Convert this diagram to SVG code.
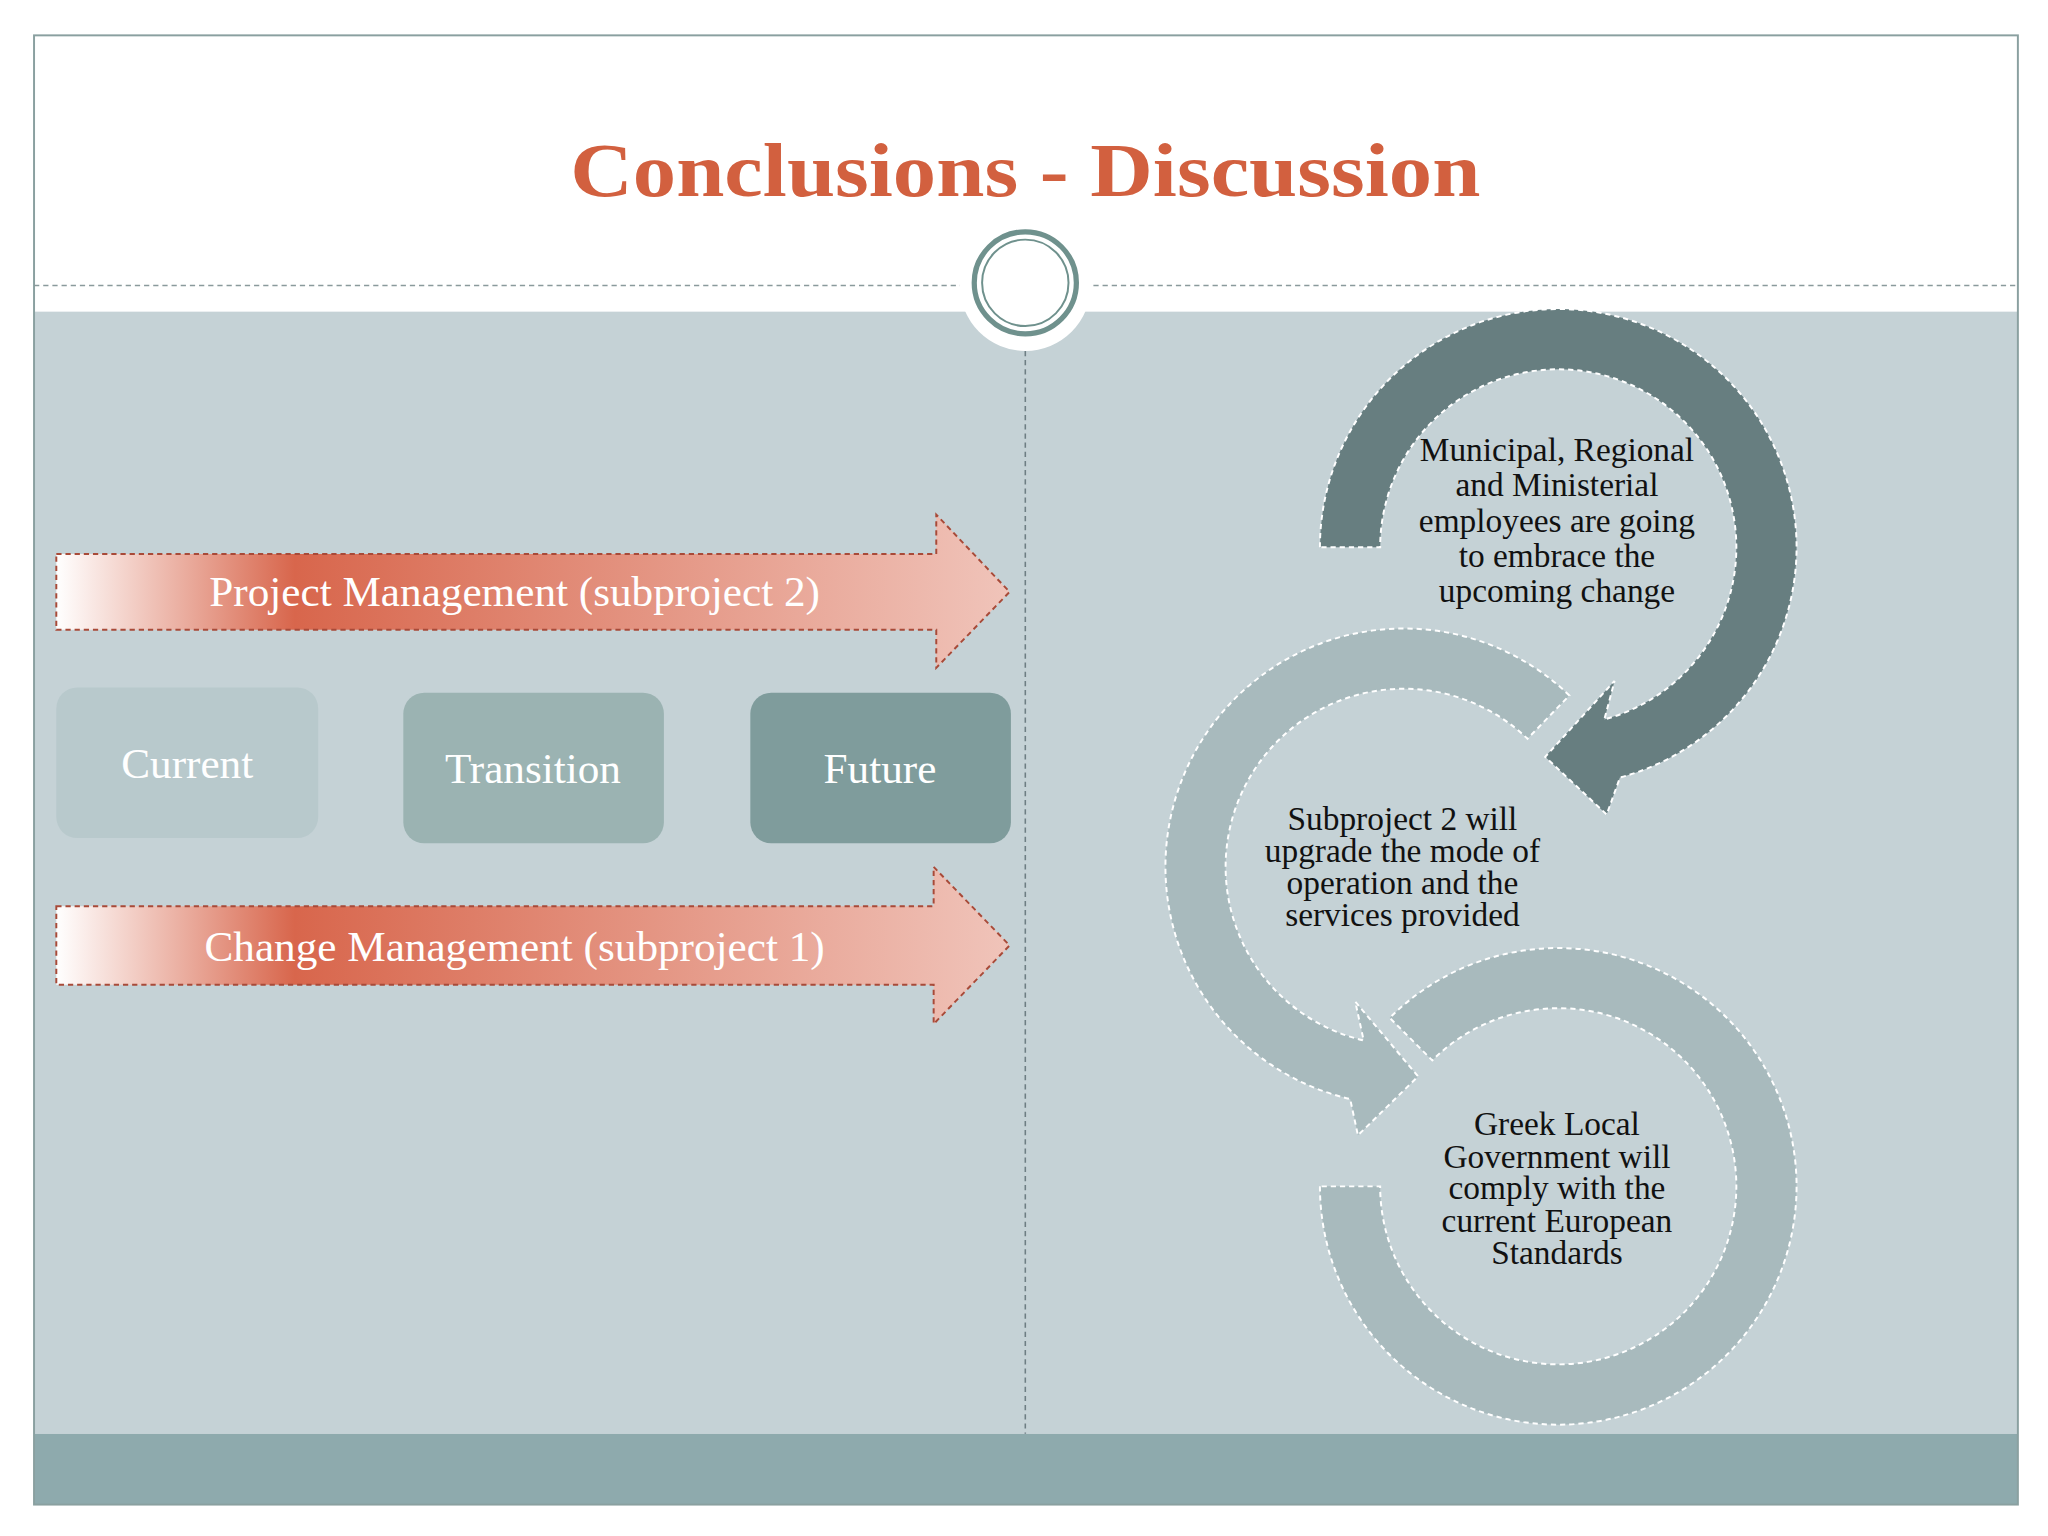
<svg xmlns="http://www.w3.org/2000/svg" width="2048" height="1536" viewBox="0 0 2048 1536">
<style>
.t{font-family:"Liberation Serif","DejaVu Serif",serif;text-anchor:middle}
.lbl{font-size:33px;fill:#ffffff}
.cyc{font-size:25.5px;fill:#111111}
.ring{stroke:#ffffff;stroke-width:1.5;stroke-dasharray:4 3}
.band{fill:url(#g);stroke:#a84a38;stroke-width:1.5;stroke-dasharray:4 3}
</style>
<defs>
<linearGradient id="g" gradientUnits="userSpaceOnUse" x1="43" y1="0" x2="771" y2="0">
<stop offset="0" stop-color="#ffffff"/>
<stop offset="0.25" stop-color="#d8664c"/>
<stop offset="1" stop-color="#f0c4ba"/>
</linearGradient>
</defs>
<rect width="2048" height="1536" fill="#ffffff"/>
<g transform="scale(1.30946)">
<g id="frame">
<rect x="26" y="238" width="1515" height="857" fill="#c5d2d6"/>
<rect x="26" y="1095" width="1515" height="54" fill="#8eaaad"/>
<rect x="26" y="27" width="1515" height="1122" fill="none" stroke="#8aa0a0" stroke-width="1.5"/>
<line x1="26" y1="218" x2="735" y2="218" stroke="#8a9a9c" stroke-width="1.2" stroke-dasharray="4 3"/>
<line x1="835" y1="218" x2="1541" y2="218" stroke="#8a9a9c" stroke-width="1.2" stroke-dasharray="4 3"/>
<line x1="783" y1="268" x2="783" y2="1095" stroke="#6e7e84" stroke-width="1.2" stroke-dasharray="4 3"/>
<circle cx="783" cy="218" r="50" fill="#ffffff"/>
<circle cx="783" cy="216" r="39" fill="#ffffff" stroke="#6f918d" stroke-width="4"/>
<circle cx="783" cy="216" r="33" fill="none" stroke="#6f918d" stroke-width="1.5"/>
</g>
<g id="title"><text class="t" x="783" y="150" font-size="58" font-weight="bold" fill="#d2603f" textLength="695" lengthAdjust="spacingAndGlyphs">Conclusions - Discussion</text></g>
<g id="pm">
<path class="band" d="M43,423 H715 V393 L771,452 L715,510 V481 H43 Z"/>
<text class="t lbl" x="393" y="463">Project Management (subproject 2)</text>
</g>
<g id="cm">
<path class="band" d="M43,692 H713 V662 L771,722 L713,782 V752 H43 Z"/>
<text class="t lbl" x="393" y="734">Change Management (subproject 1)</text>
</g>
<g id="current"><rect x="43" y="525" width="200" height="115" rx="16" fill="#b8c9cc"/><text class="t lbl" x="143" y="594" fill="#eef3f4">Current</text></g>
<g id="transition"><rect x="308" y="529" width="199" height="115" rx="16" fill="#9bb3b2"/><text class="t lbl" x="407" y="598">Transition</text></g>
<g id="future"><rect x="573" y="529" width="199" height="115" rx="16" fill="#7f9c9c"/><text class="t lbl" x="672" y="598">Future</text></g>
<g id="connectors">
<path class="ring" fill="#a8babd" d="M1008,906 A182,182 0 1 0 1061.3,777.3 L1093.8,809.8 A136,136 0 1 1 1054,906 Z"/>
<path class="ring" fill="#a8babd" d="M1198.5,531.1 A182,182 0 1 0 1031.1,839.3 L1037,867 L1083,822 L1035,765 L1041.4,794.5 A136,136 0 1 1 1166.5,564.2 Z"/>
<path class="ring" fill="#677e80" d="M1008,418 A182,182 0 1 1 1237.1,593.8 L1227,622 L1180,578 L1233,520 L1225.2,549.4 A136,136 0 1 0 1054,418 Z"/>
</g>
<g id="n1"><text class="t cyc"><tspan x="1189" y="352">Municipal, Regional</tspan><tspan x="1189" y="379">and Ministerial</tspan><tspan x="1189" y="406">employees are going</tspan><tspan x="1189" y="433">to embrace the</tspan><tspan x="1189" y="460">upcoming change</tspan></text></g>
<g id="n2"><text class="t cyc"><tspan x="1071" y="634">Subproject 2 will</tspan><tspan x="1071" y="658">upgrade the mode of</tspan><tspan x="1071" y="683">operation and the</tspan><tspan x="1071" y="707">services provided</tspan></text></g>
<g id="n3"><text class="t cyc"><tspan x="1189" y="867">Greek Local</tspan><tspan x="1189" y="892">Government will</tspan><tspan x="1189" y="916">comply with the</tspan><tspan x="1189" y="941">current European</tspan><tspan x="1189" y="965">Standards</tspan></text></g>
</g>
</svg>
